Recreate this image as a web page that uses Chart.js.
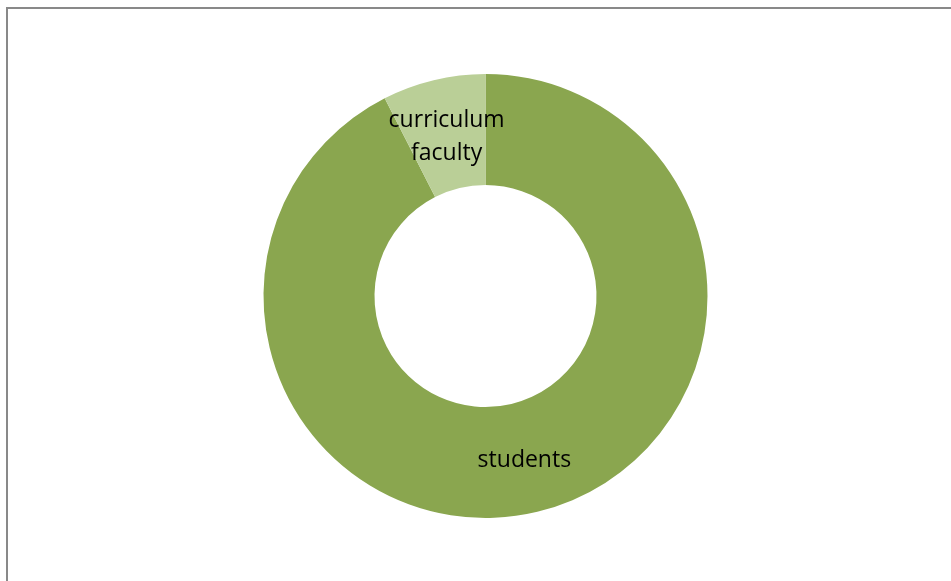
<!DOCTYPE html>
<html>
<head>
<meta charset="utf-8">
<script src="https://cdn.jsdelivr.net/npm/chart.js@4/dist/chart.umd.min.js"></script>
<style>
    html, body { margin: 0; padding: 0; background: #ffffff; }
    #wrap { position: relative; width: 951px; height: 581px; overflow: hidden; }
    #frame {
        position: absolute; left: 6px; top: 7px; width: 960px; height: 600px;
        border: 2px solid #898989; box-sizing: border-box;
    }
    canvas { position: absolute; left: 0; top: 0; }
</style>
</head>
<body>
<div id="wrap">
    <div id="frame"></div>
    <canvas id="donutChart" width="951" height="581"></canvas>
</div>
<script>
// Share of mentions by group
const categories = ['students', ['curriculum', 'faculty']];
const shares = [92.5, 7.5];
const sliceColors = ['#8aa64f', '#bacf97'];

// Write each slice's label at the middle of its ring segment
const sliceLabels = {
    id: 'sliceLabels',
    afterDatasetsDraw(chart) {
        const ctx = chart.ctx;
        const meta = chart.getDatasetMeta(0);
        ctx.save();
        ctx.font = '23px "Open Sans", sans-serif';
        ctx.fillStyle = '#000000';
        ctx.textAlign = 'center';
        ctx.textBaseline = 'middle';
        meta.data.forEach((arc, i) => {
            const pos = arc.tooltipPosition();
            const lines = Array.isArray(categories[i]) ? categories[i] : [categories[i]];
            const lineHeight = 33;
            const startY = pos.y + 3 - (lines.length - 1) * lineHeight / 2;
            lines.forEach((line, j) => {
                ctx.fillText(line, pos.x, startY + j * lineHeight);
            });
        });
        ctx.restore();
    }
};

new Chart(document.getElementById('donutChart'), {
    type: 'doughnut',
    data: {
        labels: categories.map(c => Array.isArray(c) ? c.join(' ') : c),
        datasets: [{
            data: shares,
            backgroundColor: sliceColors,
            borderWidth: 0
        }]
    },
    options: {
        responsive: false,
        animation: false,
        cutout: '50%',
        layout: {
            padding: { top: 74, bottom: 63, left: 20, right: 0 }
        },
        plugins: {
            legend: { display: false },
            tooltip: { enabled: false }
        }
    },
    plugins: [sliceLabels]
});
</script>
</body>
</html>
